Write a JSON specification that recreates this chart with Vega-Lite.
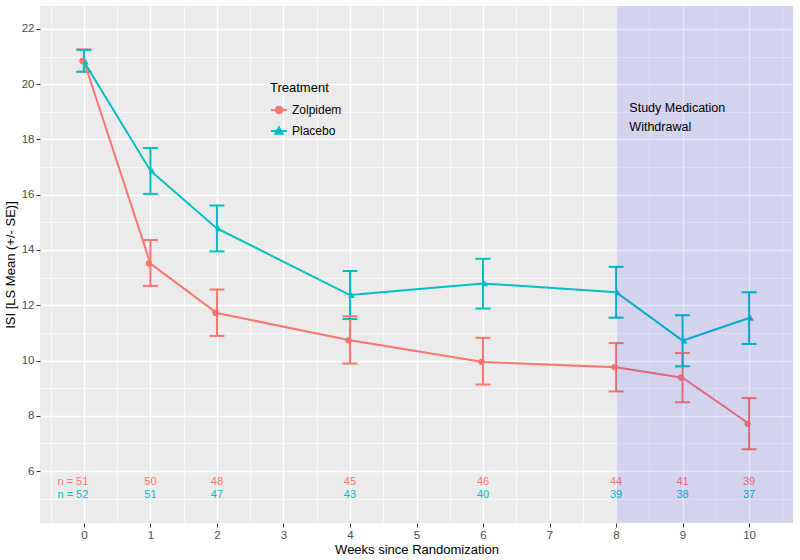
{
  "$schema": "https://vega.github.io/schema/vega-lite/v6.json",
  "width": 753,
  "height": 517,
  "autosize": {"type": "none"},
  "padding": {"left": 40, "top": 6, "right": 7, "bottom": 37},
  "background": "white",
  "config": {
    "view": {"fill": "#EBEBEB", "stroke": null},
    "font": "Liberation Sans",
    "axis": {
      "gridColor": "white",
      "domain": false,
      "labelColor": "#4D4D4D",
      "labelFontSize": 11.5,
      "labelPadding": 2,
      "labelOverlap": false,
      "labelBound": false,
      "labelFlush": false,
      "tickSize": 4,
      "tickColor": "#333333",
      "titleFontWeight": "normal",
      "titleFontSize": 13,
      "titleColor": "black"
    }
  },
  "datasets": {
    "means": [
      {"week": 0, "trt": "Zolpidem", "mean": 20.84, "lo": 20.45, "hi": 21.26},
      {"week": 1, "trt": "Zolpidem", "mean": 13.51, "lo": 12.70, "hi": 14.36},
      {"week": 2, "trt": "Zolpidem", "mean": 11.72, "lo": 10.89, "hi": 12.57},
      {"week": 4, "trt": "Zolpidem", "mean": 10.73, "lo": 9.89, "hi": 11.60},
      {"week": 6, "trt": "Zolpidem", "mean": 9.95, "lo": 9.13, "hi": 10.82},
      {"week": 8, "trt": "Zolpidem", "mean": 9.76, "lo": 8.88, "hi": 10.63},
      {"week": 9, "trt": "Zolpidem", "mean": 9.38, "lo": 8.49, "hi": 10.27},
      {"week": 10, "trt": "Zolpidem", "mean": 7.71, "lo": 6.79, "hi": 8.64},
      {"week": 0, "trt": "Placebo", "mean": 20.82, "lo": 20.45, "hi": 21.24},
      {"week": 1, "trt": "Placebo", "mean": 16.87, "lo": 16.03, "hi": 17.69},
      {"week": 2, "trt": "Placebo", "mean": 14.78, "lo": 13.95, "hi": 15.61},
      {"week": 4, "trt": "Placebo", "mean": 12.37, "lo": 11.50, "hi": 13.24},
      {"week": 6, "trt": "Placebo", "mean": 12.79, "lo": 11.88, "hi": 13.68},
      {"week": 8, "trt": "Placebo", "mean": 12.47, "lo": 11.55, "hi": 13.39},
      {"week": 9, "trt": "Placebo", "mean": 10.72, "lo": 9.79, "hi": 11.64},
      {"week": 10, "trt": "Placebo", "mean": 11.54, "lo": 10.60, "hi": 12.47}
    ],
    "counts": [
      {"week": 0, "trt": "Zolpidem", "label": "n = 51"},
      {"week": 1, "trt": "Zolpidem", "label": "50"},
      {"week": 2, "trt": "Zolpidem", "label": "48"},
      {"week": 4, "trt": "Zolpidem", "label": "45"},
      {"week": 6, "trt": "Zolpidem", "label": "46"},
      {"week": 8, "trt": "Zolpidem", "label": "44"},
      {"week": 9, "trt": "Zolpidem", "label": "41"},
      {"week": 10, "trt": "Zolpidem", "label": "39"},
      {"week": 0, "trt": "Placebo", "label": "n = 52"},
      {"week": 1, "trt": "Placebo", "label": "51"},
      {"week": 2, "trt": "Placebo", "label": "47"},
      {"week": 4, "trt": "Placebo", "label": "43"},
      {"week": 6, "trt": "Placebo", "label": "40"},
      {"week": 8, "trt": "Placebo", "label": "39"},
      {"week": 9, "trt": "Placebo", "label": "38"},
      {"week": 10, "trt": "Placebo", "label": "37"}
    ],
    "shade": [{"start": 8, "end": 10.66, "ylo": 4.12, "yhi": 22.83}],
    "note": [{"week": 8.2, "y": 19.36, "label": "Study Medication\nWithdrawal"}]
  },
  "resolve": {"axis": {"x": "independent", "y": "independent"}},
  "layer": [
    {
      "data": {"name": "means"},
      "mark": {"type": "rule", "strokeWidth": 2},
      "encoding": {
        "x": {
          "field": "week", "type": "quantitative",
          "scale": {"domain": [-0.66, 10.66], "nice": false, "zero": false},
          "axis": {
            "orient": "bottom",
            "title": null,
            "values": [-0.5, 0.5, 1.5, 2.5, 3.5, 4.5, 5.5, 6.5, 7.5, 8.5, 9.5, 10.5],
            "labels": false,
            "ticks": false,
            "grid": true,
            "gridWidth": 0.6
          }
        },
        "y": {
          "field": "lo", "type": "quantitative",
          "scale": {"domain": [4.12, 22.83], "nice": false, "zero": false},
          "axis": {
            "orient": "left",
            "title": null,
            "values": [5, 7, 9, 11, 13, 15, 17, 19, 21],
            "labels": false,
            "ticks": false,
            "grid": true,
            "gridWidth": 0.6
          }
        },
        "y2": {"field": "hi"},
        "color": {"field": "trt", "type": "nominal", "scale": {"domain": ["Zolpidem", "Placebo"], "range": ["#F8766D", "#00BFC4"]}}
      }
    },
    {
      "data": {"name": "means"},
      "mark": {"type": "tick", "orient": "horizontal", "size": 15, "thickness": 2, "opacity": 1},
      "encoding": {
        "x": {
          "field": "week", "type": "quantitative",
          "axis": {
            "orient": "bottom",
            "title": "Weeks since Randomization",
            "values": [0, 1, 2, 3, 4, 5, 6, 7, 8, 9, 10],
            "format": "d",
            "grid": true,
            "gridWidth": 1.3,
            "titlePadding": 3
          }
        },
        "y": {
          "field": "lo", "type": "quantitative",
          "axis": {
            "orient": "left",
            "title": "ISI [LS Mean (+/- SE)]",
            "values": [6, 8, 10, 12, 14, 16, 18, 20, 22],
            "format": "d",
            "grid": true,
            "gridWidth": 1.3
          }
        },
        "color": {"field": "trt", "type": "nominal"}
      }
    },
    {
      "data": {"name": "means"},
      "mark": {"type": "tick", "orient": "horizontal", "size": 15, "thickness": 2, "opacity": 1},
      "encoding": {
        "x": {"field": "week", "type": "quantitative", "axis": null},
        "y": {"field": "hi", "type": "quantitative", "axis": null},
        "color": {"field": "trt", "type": "nominal"}
      }
    },
    {
      "data": {"name": "means"},
      "mark": {"type": "line", "strokeWidth": 2},
      "encoding": {
        "x": {"field": "week", "type": "quantitative", "axis": null},
        "y": {"field": "mean", "type": "quantitative", "axis": null},
        "color": {
          "field": "trt", "type": "nominal",
          "legend": {
            "title": "Treatment",
            "orient": "none",
            "legendX": 230,
            "legendY": 76,
            "padding": 0,
            "titleFontSize": 13,
            "titleFontWeight": "normal",
            "titleColor": "black",
            "titlePadding": 6,
            "labelFontSize": 12,
            "labelColor": "black",
            "labelOffset": 4,
            "symbolSize": 256,
            "symbolStrokeWidth": 2,
            "rowPadding": 4,
            "encode": {
              "symbols": {
                "update": {
                  "shape": {"signal": "datum.value === 'Zolpidem' ? 'M-1,0L1,0M-0.4,0A0.4,0.4 0 1,0 0.4,0A0.4,0.4 0 1,0 -0.4,0Z' : 'M-1,0L1,0M0,-0.45L0.45,0.35L-0.45,0.35Z'"},
                  "fill": {"scale": "color", "field": "value"},
                  "stroke": {"scale": "color", "field": "value"},
                  "opacity": {"value": 1},
                  "fillOpacity": {"value": 1}
                }
              }
            }
          }
        }
      }
    },
    {
      "data": {"name": "means"},
      "transform": [{"filter": "datum.trt === 'Zolpidem'"}],
      "mark": {"type": "point", "filled": true, "size": 40, "opacity": 1, "shape": "circle", "xOffset": -1.5},
      "encoding": {
        "x": {"field": "week", "type": "quantitative", "axis": null},
        "y": {"field": "mean", "type": "quantitative", "axis": null},
        "color": {"field": "trt", "type": "nominal"}
      }
    },
    {
      "data": {"name": "means"},
      "transform": [{"filter": "datum.trt === 'Placebo'"}],
      "mark": {"type": "point", "filled": true, "size": 44, "opacity": 1, "shape": "triangle-up", "xOffset": 1.5},
      "encoding": {
        "x": {"field": "week", "type": "quantitative", "axis": null},
        "y": {"field": "mean", "type": "quantitative", "axis": null},
        "color": {"field": "trt", "type": "nominal"}
      }
    },
    {
      "data": {"name": "counts"},
      "transform": [{"filter": "datum.trt === 'Zolpidem' && datum.week > 0"}],
      "mark": {"type": "text", "fontSize": 11, "align": "center", "baseline": "middle"},
      "encoding": {
        "x": {"field": "week", "type": "quantitative", "axis": null},
        "y": {"datum": 5.62, "type": "quantitative", "axis": null},
        "text": {"field": "label"},
        "color": {"field": "trt", "type": "nominal"}
      }
    },
    {
      "data": {"name": "counts"},
      "transform": [{"filter": "datum.trt === 'Placebo' && datum.week > 0"}],
      "mark": {"type": "text", "fontSize": 11, "align": "center", "baseline": "middle"},
      "encoding": {
        "x": {"field": "week", "type": "quantitative", "axis": null},
        "y": {"datum": 5.15, "type": "quantitative", "axis": null},
        "text": {"field": "label"},
        "color": {"field": "trt", "type": "nominal"}
      }
    },
    {
      "data": {"name": "counts"},
      "transform": [{"filter": "datum.trt === 'Zolpidem' && datum.week === 0"}],
      "mark": {"type": "text", "fontSize": 11, "align": "center", "baseline": "middle", "dx": -11},
      "encoding": {
        "x": {"field": "week", "type": "quantitative", "axis": null},
        "y": {"datum": 5.62, "type": "quantitative", "axis": null},
        "text": {"field": "label"},
        "color": {"field": "trt", "type": "nominal"}
      }
    },
    {
      "data": {"name": "counts"},
      "transform": [{"filter": "datum.trt === 'Placebo' && datum.week === 0"}],
      "mark": {"type": "text", "fontSize": 11, "align": "center", "baseline": "middle", "dx": -11},
      "encoding": {
        "x": {"field": "week", "type": "quantitative", "axis": null},
        "y": {"datum": 5.15, "type": "quantitative", "axis": null},
        "text": {"field": "label"},
        "color": {"field": "trt", "type": "nominal"}
      }
    },
    {
      "data": {"name": "shade"},
      "mark": {"type": "rect", "fill": "#0000FF", "opacity": 0.1},
      "encoding": {
        "x": {"field": "start", "type": "quantitative", "axis": null},
        "x2": {"field": "end"},
        "y": {"field": "ylo", "type": "quantitative", "axis": null},
        "y2": {"field": "yhi"}
      }
    },
    {
      "data": {"name": "note"},
      "mark": {"type": "text", "fontSize": 12.5, "align": "left", "baseline": "top", "lineBreak": "\n", "lineHeight": 19, "color": "black"},
      "encoding": {
        "x": {"field": "week", "type": "quantitative", "axis": null},
        "y": {"field": "y", "type": "quantitative", "axis": null},
        "text": {"field": "label"}
      }
    }
  ]
}
